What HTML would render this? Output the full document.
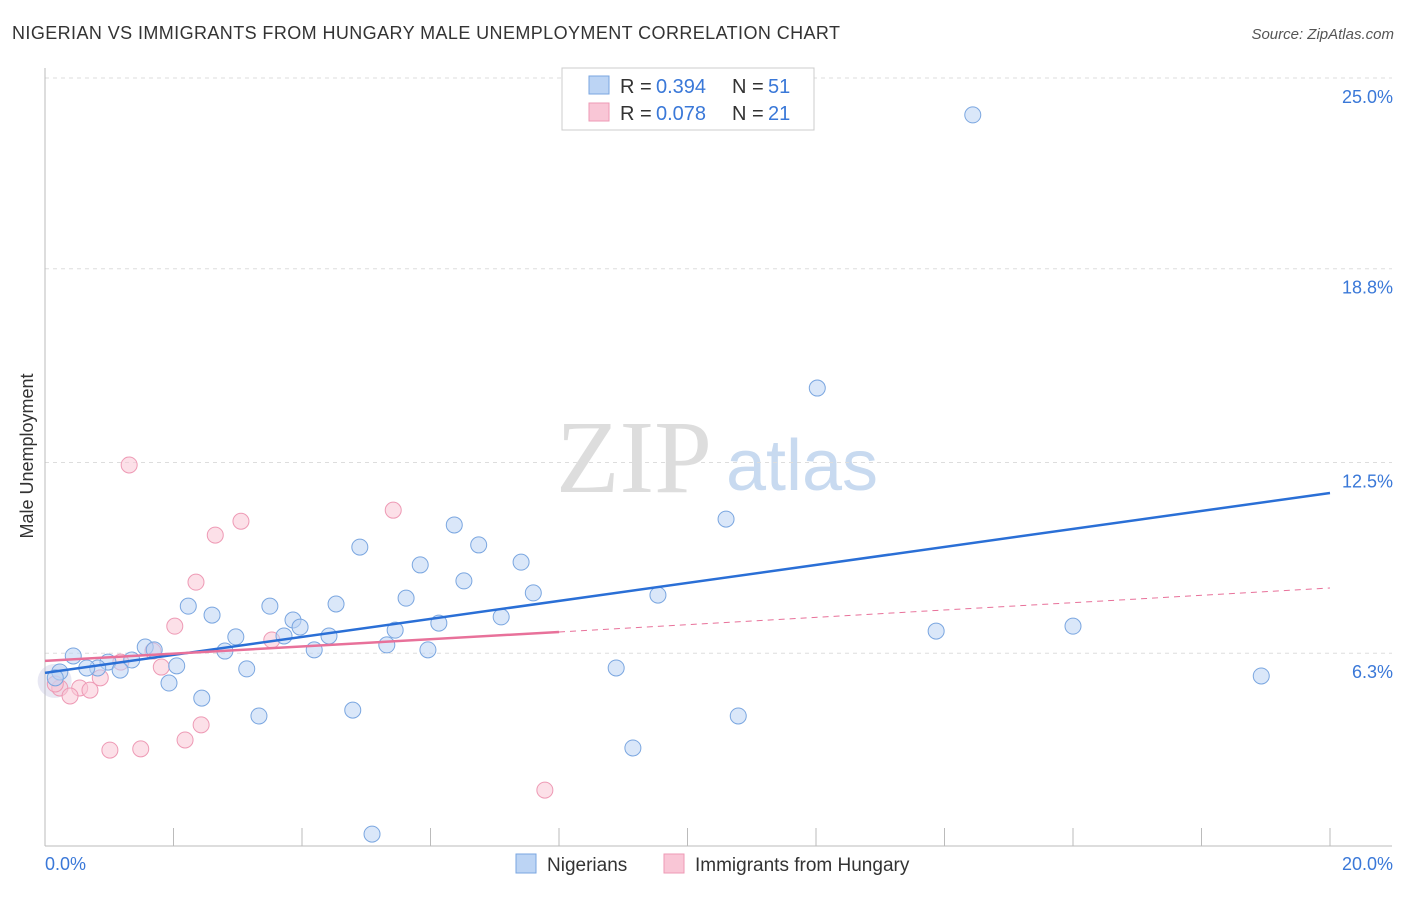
<!DOCTYPE html>
<html><head><meta charset="utf-8"><style>
body{margin:0;background:#fff;font-family:"Liberation Sans",sans-serif}
svg text{font-family:"Liberation Sans",sans-serif}
</style></head><body>
<svg id="c" width="1406" height="892">
<text x="12" y="39" font-size="18" fill="#333" textLength="828">NIGERIAN VS IMMIGRANTS FROM HUNGARY MALE UNEMPLOYMENT CORRELATION CHART</text>
<text x="1394" y="39" font-size="15" fill="#555" text-anchor="end" font-style="italic">Source: ZipAtlas.com</text>
<text x="634" y="492" font-size="104" fill="#ddd" style="font-family:'Liberation Serif',serif" text-anchor="middle">ZIP</text>
<text x="802" y="490" font-size="72" fill="#c8daf0" text-anchor="middle">atlas</text>
<text transform="translate(33,456) rotate(-90)" font-size="18" fill="#333" text-anchor="middle">Male Unemployment</text>
<g id="grid"></g><g id="marks"></g>
<g>
<rect x="562" y="68" width="252" height="62" fill="#fff" stroke="#ccc"/>
<rect x="589" y="76" width="20" height="18" fill="#bcd4f4" stroke="#7aa6e0"/>
<rect x="589" y="103" width="20" height="18" fill="#f9c6d6" stroke="#ee9ab5"/>
<text x="620" y="93" font-size="20" fill="#333">R = </text><text x="656" y="93" font-size="20" fill="#3a78d8">0.394</text>
<text x="732" y="93" font-size="20" fill="#333">N = </text><text x="768" y="93" font-size="20" fill="#3a78d8">51</text>
<text x="620" y="120" font-size="20" fill="#333">R = </text><text x="656" y="120" font-size="20" fill="#3a78d8">0.078</text>
<text x="732" y="120" font-size="20" fill="#333">N = </text><text x="768" y="120" font-size="20" fill="#3a78d8">21</text>
</g>
<g>
<rect x="516" y="854" width="20" height="19" fill="#bcd4f4" stroke="#7aa6e0"/>
<text x="547" y="871" font-size="19" fill="#333">Nigerians</text>
<rect x="664" y="854" width="20" height="19" fill="#f9c6d6" stroke="#ee9ab5"/>
<text x="695" y="871" font-size="19" fill="#333">Immigrants from Hungary</text>
</g>
</svg>
<script>
const yTicks=[25.0,18.8,12.5,6.3];
const yTickLabels=["25.0%","18.8%","12.5%","6.3%"];
const xTickLabels=["0.0%","20.0%"];
const blueX=[14.44,12.02,10.60,6.37,4.90,6.75,5.84,7.41,6.52,7.60,5.62,9.54,2.23,3.50,4.53,2.60,3.86,7.10,6.13,3.97,5.45,2.97,4.42,3.72,13.87,16.00,1.56,1.70,2.80,4.19,5.32,5.96,0.44,0.98,1.35,2.05,0.82,1.17,3.14,8.89,0.23,0.65,0.16,1.93,2.44,18.93,4.79,3.33,10.79,9.15,5.09];
const blueY=[23.80,14.92,10.66,10.47,9.75,9.82,9.17,9.26,8.65,8.26,8.09,8.19,7.83,7.83,7.90,7.54,7.38,7.48,7.28,7.15,7.05,6.83,6.86,6.86,7.02,7.18,6.50,6.41,6.37,6.41,6.57,6.41,6.21,6.01,6.08,5.89,5.82,5.75,5.79,5.82,5.69,5.82,5.50,5.33,4.84,5.56,4.45,4.26,4.26,3.22,0.42];
const pinkX=[1.31,5.42,3.05,2.65,2.35,2.02,3.53,1.68,1.18,1.81,0.86,0.54,0.23,0.70,0.39,2.43,2.18,1.01,1.49,7.78,0.16];
const pinkY=[12.42,10.95,10.59,10.14,8.61,7.18,6.73,6.37,6.01,5.85,5.50,5.17,5.17,5.10,4.91,3.97,3.48,3.15,3.19,1.85,5.30];
const blueTrend=[5.66,11.51];
const pinkTrend=[6.05,6.99,8.42];
const X=v=>45+v*64.25, Y=v=>847-v*30.76;
const NS="http://www.w3.org/2000/svg";
function mk(tag,a,parent){const e=document.createElementNS(NS,tag);for(const k in a)e.setAttribute(k,a[k]);document.getElementById(parent).appendChild(e);return e;}
yTicks.forEach((t,i)=>{
 const l=mk('line',{x1:45,x2:1392,y1:Y(t),y2:Y(t),stroke:'#ddd','stroke-dasharray':'4,4'},'grid');
 
 
 const tx=mk('text',{x:1393,y:Y(t)+25,'font-size':18,fill:'#3a78d8','text-anchor':'end'},'grid');tx.textContent=yTickLabels[i];
 
 
});
mk('line',{x1:45,x2:45,y1:68,y2:846,stroke:'#bbb'},'grid');
mk('line',{x1:45,x2:1392,y1:846,y2:846,stroke:'#bbb'},'grid');
for(let i=1;i<=10;i++){const x=X(i*2);const t=mk('line',{x1:x,x2:x,y1:828,y2:846,stroke:'#bbb'},'grid');
 
 }
[[0,45,'start'],[20,1393,'end']].forEach((d,i)=>{const t=mk('text',{x:d[1],y:870,'font-size':18,fill:'#3a78d8','text-anchor':d[2]},'grid');t.textContent=xTickLabels[i];
 
 });
const big=mk('circle',{cx:X(0.15),cy:Y(5.4),r:17,fill:'rgba(190,190,220,0.35)'},'marks');
pinkX.forEach((x,i)=>{const c=mk('circle',{cx:X(x),cy:Y(pinkY[i]),r:8,fill:'rgba(249,198,214,0.55)',stroke:'#ee9ab5','stroke-width':1},'marks');
 
 });
blueX.forEach((x,i)=>{const c=mk('circle',{cx:X(x),cy:Y(blueY[i]),r:8,fill:'rgba(188,212,244,0.55)',stroke:'#7aa6e0','stroke-width':1},'marks');
 
 });
const bl=mk('line',{x1:X(0),y1:Y(blueTrend[0]),x2:X(20),y2:Y(blueTrend[1]),stroke:'#2a6fd6','stroke-width':2.5},'marks');


const pl=mk('line',{x1:X(0),y1:Y(pinkTrend[0]),x2:X(8),y2:Y(pinkTrend[1]),stroke:'#e8719a','stroke-width':2.5},'marks');


const pd=mk('line',{x1:X(8),y1:Y(pinkTrend[1]),x2:X(20),y2:Y(pinkTrend[2]),stroke:'#e8719a','stroke-width':1,'stroke-dasharray':'6,5'},'marks');


</script>
</body></html>
